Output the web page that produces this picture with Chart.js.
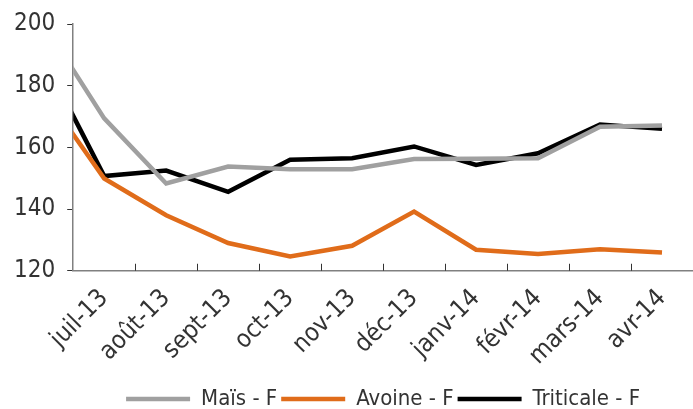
<!DOCTYPE html>
<html>
<head>
<meta charset="utf-8">
<script src="https://cdn.jsdelivr.net/npm/chart.js@4"></script>
<style>
  html, body { margin: 0; padding: 0; background: #fff; }
  #wrap { width: 693px; height: 409px; position: relative; }
</style>
</head>
<body>
<div id="wrap"><canvas id="prixChart"></canvas></div>
<script>
// juin-13 sits left of the plot, only its segment shows (clipped at the y axis)
const mois = ["juin-13", "juil-13", "août-13", "sept-13", "oct-13", "nov-13", "déc-13",
  "janv-14", "févr-14", "mars-14", "avr-14"];
const mais = [200.8, 169.4, 148.3, 153.8, 152.9, 152.9, 156.2, 156.3, 156.5, 166.7, 167.1];
const avoine = [178.5, 149.9, 138.0, 129.0, 124.6, 128.1, 139.2, 126.8, 125.4, 127.0, 125.9];
const triticale = [189.7, 150.7, 152.5, 145.6, 156.0, 156.5, 160.3, 154.3, 158.1, 167.4, 166.0];
const yTicks = [120, 140, 160, 180, 200];

const FONT = "'Liberation Sans Narrow', 'DejaVu Sans Condensed', 'Liberation Sans', sans-serif";
const axisColor = "#808080";
const LW = 4.5;

// petites graduations vers l'intérieur sur l'axe des x
const innerTicks = {
  id: "innerTicks",
  afterDatasetsDraw(chart) {
    const xs = chart.scales.x, area = chart.chartArea, ctx = chart.ctx;
    const n = xs.ticks.length;
    const step = xs.getPixelForTick(1) - xs.getPixelForTick(0);
    ctx.save();
    ctx.strokeStyle = "#333";
    ctx.lineWidth = 1;
    for (let i = 1; i < n; i++) {
      const px = Math.round(xs.getPixelForTick(0) - step / 2 + i * step) + 0.5;
      ctx.beginPath();
      ctx.moveTo(px, area.bottom);
      ctx.lineTo(px, area.bottom - 7);
      ctx.stroke();
    }
    ctx.restore();
  }
};

new Chart(document.getElementById("prixChart"), {
  type: "line",
  data: {
    labels: mois,
    datasets: [
      { label: "Maïs - F", data: mais, borderColor: "#a0a0a0", backgroundColor: "#a0a0a0", borderWidth: LW },
      { label: "Avoine - F", data: avoine, borderColor: "#e06c1a", backgroundColor: "#e06c1a", borderWidth: LW },
      { label: "Triticale - F", data: triticale, borderColor: "#000000", backgroundColor: "#000000", borderWidth: LW }
    ]
  },
  options: {
    responsive: true,
    maintainAspectRatio: false,
    animation: false,
    layout: { padding: { top: 24, right: 0, left: 2, bottom: -11 } },
    elements: {
      line: { tension: 0, borderJoinStyle: "miter" },
      point: { radius: 0, hoverRadius: 0 }
    },
    plugins: {
      legend: {
        position: "bottom",
        fullSize: false,
        labels: {
          usePointStyle: true,
          pointStyle: "line",
          pointStyleWidth: 64,
          color: "#333",
          padding: 4,
          font: { family: FONT, size: 22 }
        }
      },
      tooltip: { enabled: false }
    },
    scales: {
      x: {
        type: "category",
        min: "juil-13",
        offset: true,
        afterFit: s => { s.paddingRight = 0; },
        grid: { offset: true, drawOnChartArea: false, drawTicks: false },
        border: { display: true, color: axisColor, width: 1.5 },
        ticks: {
          autoSkip: false,
          minRotation: 45,
          maxRotation: 45,
          padding: 13,
          color: "#333",
          font: { family: FONT, size: 25 }
        }
      },
      y: {
        min: 120,
        max: 200,
        afterFit: s => { s.paddingTop = 0; },
        afterBuildTicks: axis => { axis.ticks = yTicks.map(v => ({ value: v })); },
        grid: { drawOnChartArea: false, tickLength: 6, color: "#333" },
        border: { display: true, color: axisColor, width: 1.5 },
        ticks: {
          padding: 12,
          color: "#333",
          font: { family: FONT, size: 24 }
        }
      }
    }
  },
  plugins: [innerTicks]
});
</script>
</body>
</html>
